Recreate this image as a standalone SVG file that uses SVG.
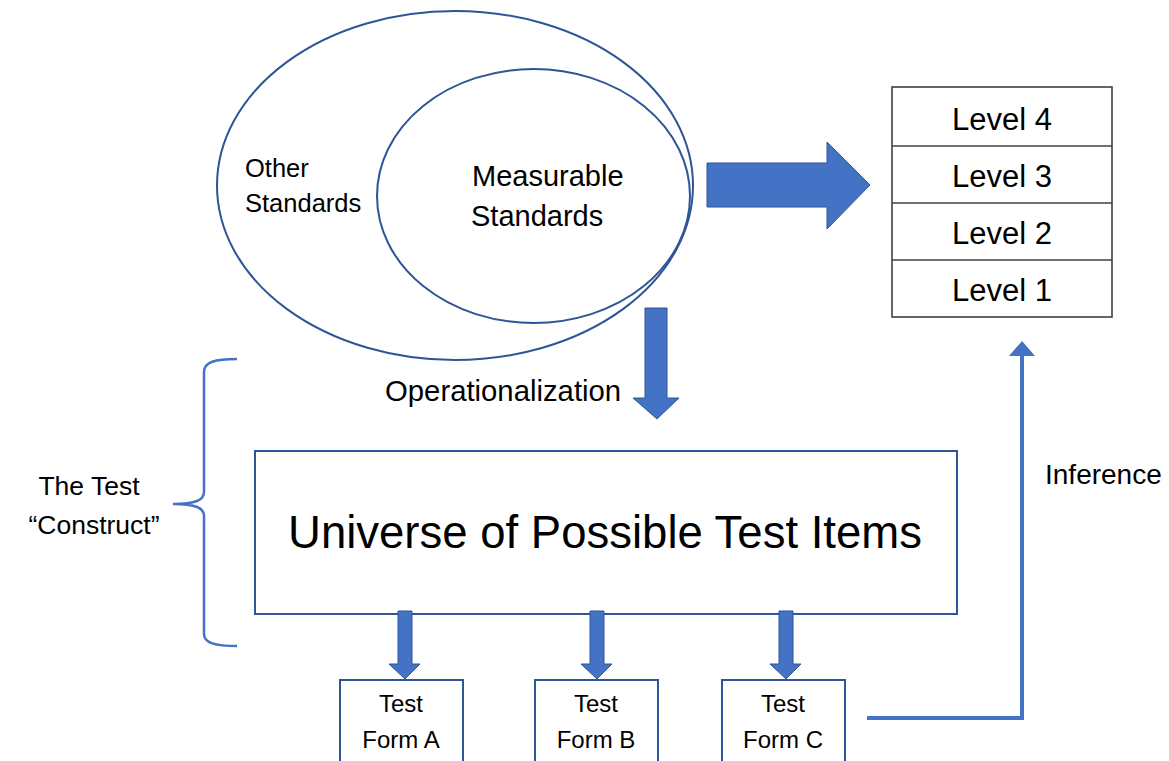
<svg xmlns="http://www.w3.org/2000/svg" width="1169" height="761" viewBox="0 0 1169 761">
<style>
  text { font-family: "Liberation Sans", Arial, sans-serif; fill: #000; }
  .ell { fill: none; stroke: #2f5597; stroke-width: 2; }
  .box { fill: #fff; stroke: #2f5597; stroke-width: 2; }
  .blk { fill: #4472c4; stroke: #2f5597; stroke-width: 1; }
  .tbl { fill: #fff; stroke: #404040; stroke-width: 1.6; }
  .line { fill: none; stroke: #4472c4; stroke-width: 2.5; }
  .lvl { font-size: 31px; text-anchor: middle; }
  .frm { font-size: 24px; text-anchor: middle; }
</style>
<rect width="1169" height="761" fill="#fff"/>

<g id="standards">
  <ellipse class="ell" cx="455" cy="185.5" rx="238" ry="174.5"/>
  <text x="245" y="177" font-size="25.5">Other</text>
  <text x="245" y="212" font-size="25.5">Standards</text>
</g>
<g id="measurable">
  <ellipse class="ell" cx="533.5" cy="196" rx="156.5" ry="127"/>
  <text x="472" y="186" font-size="29">Measurable</text>
  <text x="471" y="226" font-size="29">Standards</text>
</g>

<g id="levels">
  <rect class="tbl" x="892" y="87" width="220" height="230"/>
  <line class="tbl" x1="892" y1="146" x2="1112" y2="146"/>
  <line class="tbl" x1="892" y1="203" x2="1112" y2="203"/>
  <line class="tbl" x1="892" y1="260" x2="1112" y2="260"/>
  <text class="lvl" x="1002" y="130">Level 4</text>
  <text class="lvl" x="1002" y="187">Level 3</text>
  <text class="lvl" x="1002" y="244">Level 2</text>
  <text class="lvl" x="1002" y="301">Level 1</text>
</g>

<g id="construct">
  <path class="line" d="M237,359 C215,359 204,362 204,372 L204,492 C204,500 196,504 173,504 C196,504 204,508 204,516 L204,634 C204,643 215,646 237,646"/>
  <text x="89" y="495" font-size="26.5" text-anchor="middle">The Test</text>
  <text x="94" y="534" font-size="26.5" text-anchor="middle">“Construct”</text>
</g>

<g id="universe">
  <rect class="box" x="255" y="451" width="702" height="163"/>
  <text x="605" y="548" font-size="45.5" text-anchor="middle">Universe of Possible Test Items</text>
</g>

<g id="formA">
  <rect class="box" x="340" y="680" width="123" height="90"/>
  <text class="frm" x="401" y="712">Test</text>
  <text class="frm" x="401" y="748">Form A</text>
</g>
<g id="formB">
  <rect class="box" x="535" y="680" width="123" height="90"/>
  <text class="frm" x="596" y="712">Test</text>
  <text class="frm" x="596" y="748">Form B</text>
</g>
<g id="formC">
  <rect class="box" x="722" y="680" width="123" height="90"/>
  <text class="frm" x="783" y="712">Test</text>
  <text class="frm" x="783" y="748">Form C</text>
</g>

<g id="connectors">
  <!-- big right arrow -->
  <path class="blk" d="M707,163 L827,163 L827,142 L870,185 L827,229 L827,207 L707,207 Z"/>
  <!-- operationalization down arrow -->
  <path class="blk" d="M645,308 L667,308 L667,398 L679,398 L657,419 L633,398 L645,398 Z"/>
  <text x="385" y="401" font-size="29.3">Operationalization</text>
  <!-- small down arrows -->
  <path class="blk" d="M398,611 L412,611 L412,664 L420,664 L405,679 L389,664 L398,664 Z"/>
  <path class="blk" d="M590,611 L604,611 L604,664 L612,664 L597,679 L581,664 L590,664 Z"/>
  <path class="blk" d="M779,611 L793,611 L793,664 L801,664 L786,679 L770,664 L779,664 Z"/>
  <!-- inference -->
  <path d="M867,718 L1022,718 L1022,354" fill="none" stroke="#4472c4" stroke-width="4"/>
  <path d="M1009,356 L1022,341 L1035,356 Z" fill="#4472c4"/>
  <text x="1045" y="484" font-size="28">Inference</text>
</g>
</svg>
